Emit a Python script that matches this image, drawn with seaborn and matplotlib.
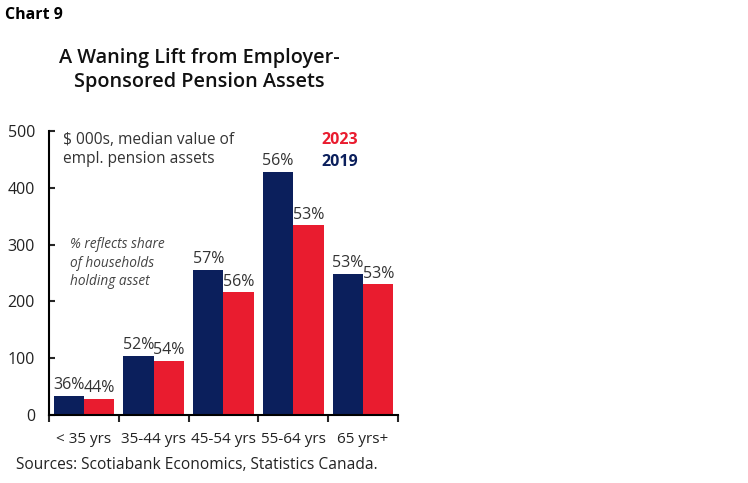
import matplotlib.pyplot as plt
import seaborn as sns
import pandas as pd

# Data
age_groups = ["< 35 yrs", "35-44 yrs", "45-54 yrs", "55-64 yrs", "65 yrs+"]
pension_2019 = [34, 104, 256, 428, 249]
pension_2023 = [29, 95, 216, 334, 230]
share_2019 = ["36%", "52%", "57%", "56%", "53%"]
share_2023 = ["44%", "54%", "56%", "53%", "53%"]

NAVY = "#0b1f5c"
RED = "#e91c2f"

df = pd.DataFrame({
    "age": age_groups * 2,
    "value": pension_2019 + pension_2023,
    "year": ["2019"] * 5 + ["2023"] * 5,
})

sns.set_style("ticks")
plt.rcParams["font.family"] = ["Open Sans", "DejaVu Sans"]

fig = plt.figure(figsize=(7.48, 4.83), dpi=100)
ax = fig.add_axes([0.0655, 0.1408, 0.4665, 0.588])

sns.barplot(data=df, x="age", y="value", hue="year", hue_order=["2019", "2023"],
            palette=[NAVY, RED], width=0.87, saturation=1, linewidth=0,
            ax=ax, legend=False)

# percentage labels on top of the bars
for container, labels in zip(ax.containers, [share_2019, share_2023]):
    ax.bar_label(container, labels=labels, padding=2, fontsize=11.5, color="#333333")

ax.set_xlim(-0.5, 4.5)
ax.set_ylim(0, 500)
ax.set_yticks([0, 100, 200, 300, 400, 500])
ax.set_xlabel("")
ax.set_ylabel("")

sns.despine(ax=ax)
for side in ["left", "bottom"]:
    ax.spines[side].set_color("black")
    ax.spines[side].set_linewidth(1.5)

ax.tick_params(axis="y", direction="in", length=4, width=1.5, labelsize=11.5,
               labelcolor="#222222", pad=10)
ax.tick_params(axis="x", which="major", length=0, labelsize=11,
               labelcolor="#222222", pad=12)
ax.set_xticks([-0.5, 0.5, 1.5, 2.5, 3.5, 4.5], minor=True)
ax.tick_params(axis="x", which="minor", direction="out", length=5, width=1.5)

# in-chart annotations
ax.text(0.04, 0.995, "$ 000s, median value of\nempl. pension assets",
        transform=ax.transAxes, ha="left", va="top", fontsize=11.2,
        color="#333333", linespacing=1.25)
ax.text(0.885, 0.995, "2023", transform=ax.transAxes, ha="right", va="top",
        fontsize=11.5, fontweight="bold", color=RED)
ax.text(0.885, 0.92, "2019", transform=ax.transAxes, ha="right", va="top",
        fontsize=11.5, fontweight="bold", color=NAVY)
ax.text(0.06, 0.625, "% reflects share\nof households\nholding asset",
        transform=ax.transAxes, ha="left", va="top", fontsize=9.8,
        style="italic", color="#444444", linespacing=1.3)

# figure level text
fig.text(0.007, 0.968, "Chart 9", ha="left", va="center", fontsize=11.5,
         fontweight="bold", color="black")
fig.text(0.267, 0.855, "A Waning Lift from Employer-\nSponsored Pension Assets",
         ha="center", va="center", fontsize=14.3, fontweight="semibold",
         color="#111111", linespacing=1.3)
fig.text(0.022, 0.037, "Sources: Scotiabank Economics, Statistics Canada.",
         ha="left", va="center", fontsize=11.2, color="#222222")

fig.savefig("out.png", dpi=100)
